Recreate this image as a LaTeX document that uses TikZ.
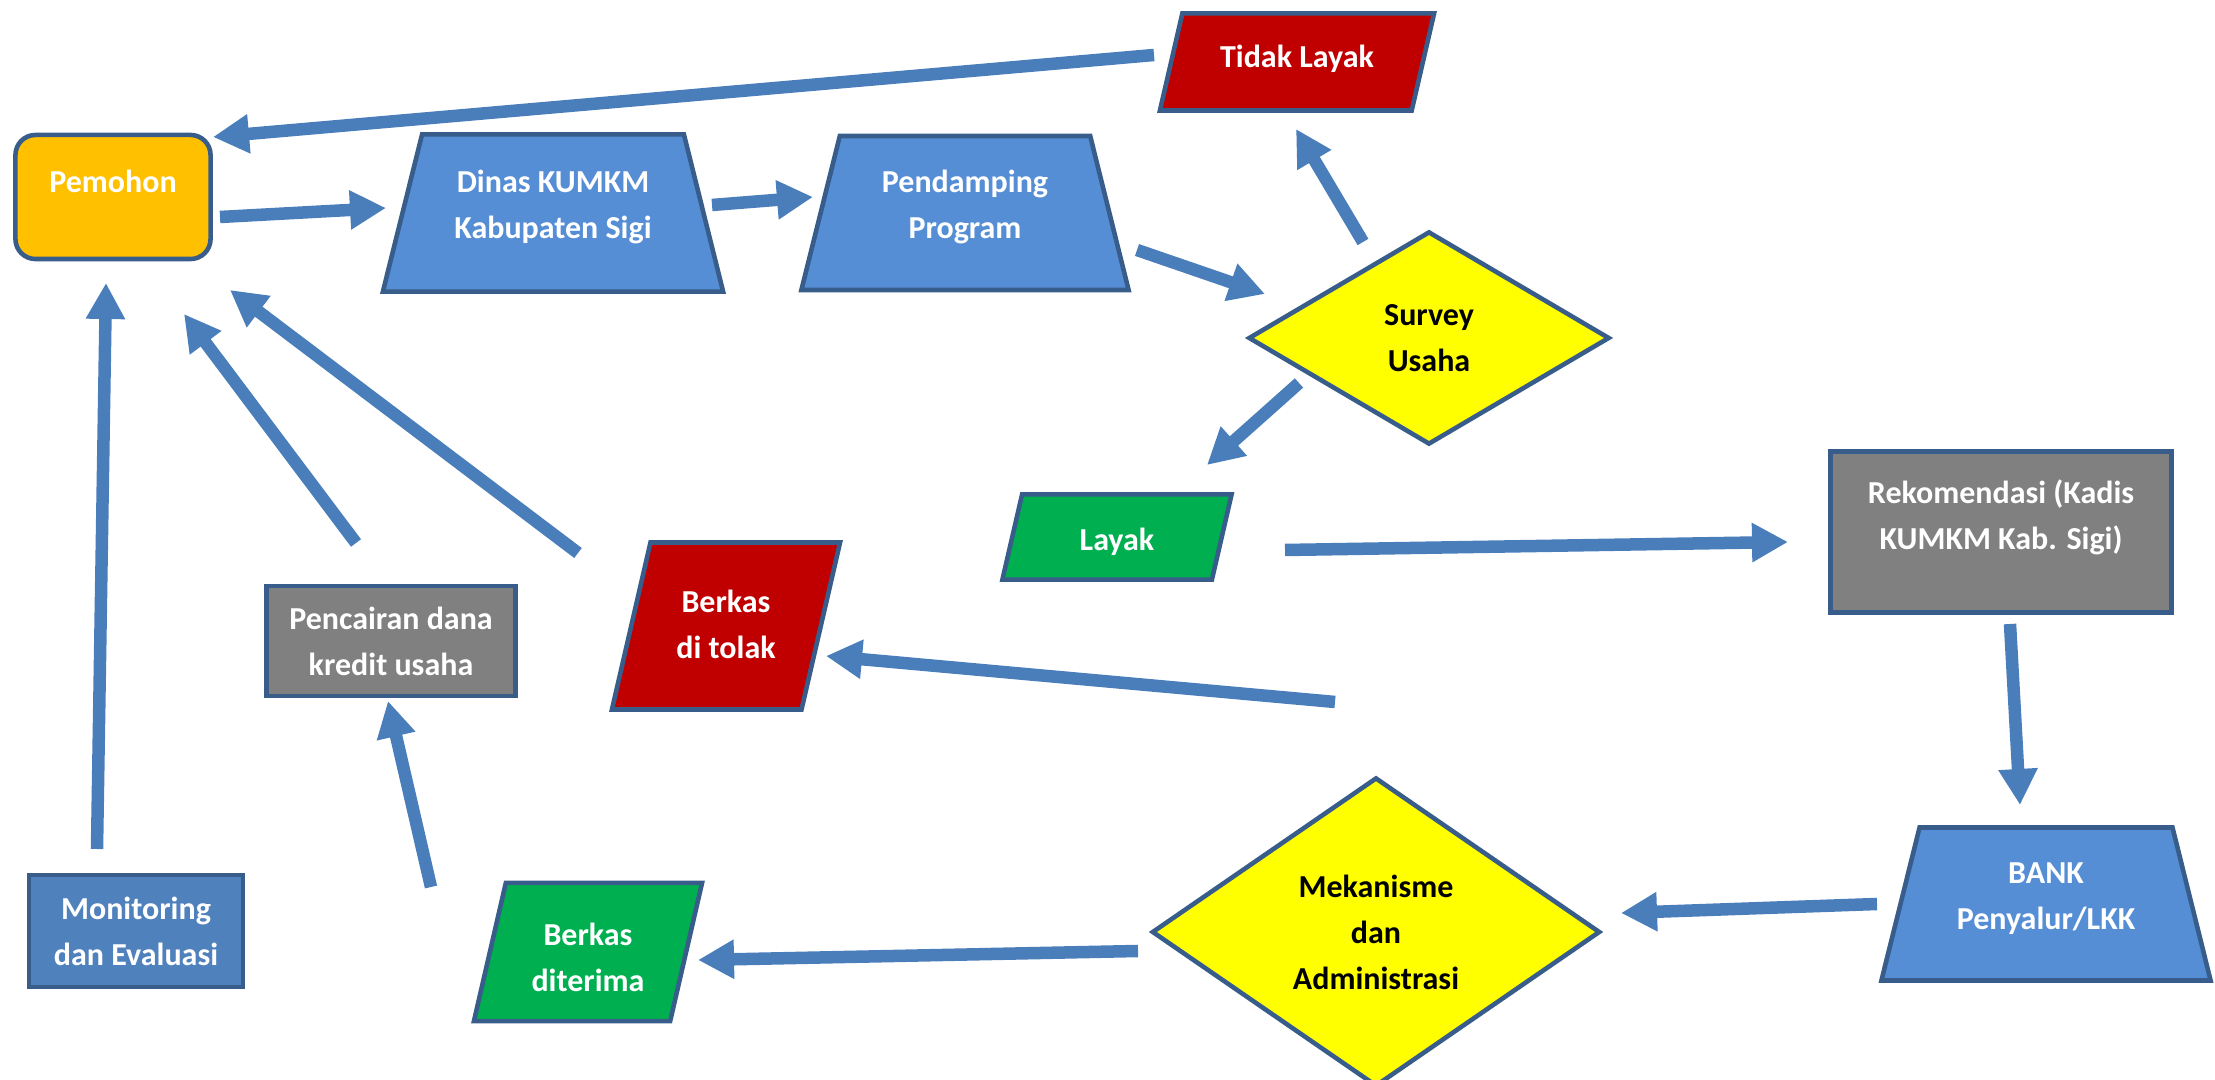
\documentclass[tikz,border=0pt]{standalone}
\usepackage{fontspec}
\setmainfont{Carlito}
\usetikzlibrary{arrows.meta,shapes.geometric,calc}
\definecolor{edge}{HTML}{385D8A}
\definecolor{flowblue}{HTML}{4A7EBB}
\definecolor{applicant}{HTML}{FFC000}
\definecolor{office}{HTML}{558ED5}
\definecolor{reject}{HTML}{C00000}
\definecolor{accept}{HTML}{00B050}
\definecolor{check}{HTML}{FFFF00}
\definecolor{neutral}{HTML}{808080}
\definecolor{monitor}{HTML}{4F81BD}

\begin{document}
\begin{tikzpicture}[x=0.01cm,y=-0.01cm,
  box/.style={draw=edge,line width=1.3pt,font=\fontsize{9.1}{13.1}\selectfont\bfseries,align=center,text=white,inner sep=2pt},
  trap/.style={trapezium,trapezium left angle=76,trapezium right angle=76,trapezium stretches body,inner ysep=0pt,fill=office},
  para/.style={trapezium,trapezium left angle=77,trapezium right angle=103,trapezium stretches body,inner ysep=0pt},
  decision/.style={diamond,fill=check,text=black},
  flow/.style={flowblue,line width=0.125cm,-{Triangle[length=0.36cm,width=0.37cm]}}]
  \useasboundingbox (0,0) rectangle (2215,1080);

  \node[box,rounded corners=0.2cm,fill=applicant,minimum width=1.95cm,minimum height=1.24cm,text height=8pt,text depth=10.4pt] (pem) at (113,197) {Pemohon};
  \node[box,trap,minimum width=3.40cm,text height=29.6pt,text depth=15.1pt] (dinas) at (553,213) {Dinas KUMKM\\Kabupaten Sigi};
  \node[box,trap,minimum width=3.27cm,text height=29.25pt,text depth=14.55pt] (pend) at (965,213) {Pendamping\\Program};
  \node[box,para,fill=reject,minimum width=2.74cm,text height=15.3pt,text depth=12.3pt] (tl) at (1297,62) {Tidak Layak};
  \node[box,decision,minimum width=3.61cm,minimum height=2.13cm] (survey) at (1429,338) {Survey\\Usaha};
  \node[box,para,fill=accept,minimum width=2.29cm,text height=15.9pt,text depth=8.3pt] (layak) at (1117,537) {Layak};
  \node[box,fill=neutral,minimum width=3.41cm,minimum height=1.61cm,text height=23.1pt,text depth=13pt] (rek) at (2001,532) {Rekomendasi (Kadis\\KUMKM Kab. Sigi)};
  \node[box,trap,minimum width=3.29cm,text height=29.1pt,text depth=14.4pt] (bank) at (2046,904) {BANK\\Penyalur/LKK};
  \node[box,decision,minimum width=4.48cm,minimum height=2.92cm] (mek) at (1376,932) {Mekanisme\\dan\\Administrasi};
  \node[box,para,fill=accept,minimum width=2.28cm,text height=31pt,text depth=8.3pt] (terima) at (588,952) {Berkas\\diterima};
  \node[box,fill=neutral,minimum width=2.49cm,minimum height=1.10cm] (cair) at (391,641) {Pencairan dana\\kredit usaha};
  \node[box,para,fill=reject,minimum width=2.28cm,text height=33.1pt,text depth=14.4pt] (tolak) at (726,626) {Berkas\\di tolak};
  \node[box,fill=monitor,minimum width=2.14cm,minimum height=1.12cm] (monev) at (136,931) {Monitoring\\dan Evaluasi};
  \coordinate (balik) at (1335,702);

  \draw[flow] ($(tl)+(-143,-7)$) -- ($(pem)+(100,-60)$);
  \draw[flow] ($(pem)+(107,20)$) -- ($(dinas)+(-167,-5)$);
  \draw[flow] ($(dinas)+(159,-8)$) -- ($(pend)+(-152,-16)$);
  \draw[flow] ($(pend)+(172,37)$) -- ($(survey)+(-164,-44)$);
  \draw[flow] ($(survey)+(-66,-96)$) -- ($(tl)+(-1,67)$);
  \draw[flow] ($(survey)+(-130,45)$) -- ($(layak)+(90,-72)$);
  \draw[flow] ($(layak)+(168,13)$) -- ($(rek)+(-213,10)$);
  \draw[flow] ($(rek)+(9,92)$) -- ($(bank)+(-26,-99)$);
  \draw[flow] ($(bank)+(-169,0)$) -- ($(mek)+(245,-19)$);
  \draw[flow] ($(mek)+(-238,19)$) -- ($(terima)+(110,8)$);
  \draw[flow] ($(terima)+(-157,-65)$) -- ($(cair)+(-3,60)$);
  \draw[flow] ($(monev)+(-39,-82)$) -- ($(pem)+(-7,86)$);
  \draw[flow] ($(cair)+(-35,-98)$) -- ($(pem)+(71,117)$);
  \draw[flow] ($(tolak)+(-148,-73)$) -- ($(pem)+(117,93)$);
  \draw[flow] (balik) -- ($(tolak)+(100,30)$);
\end{tikzpicture}
\end{document}
